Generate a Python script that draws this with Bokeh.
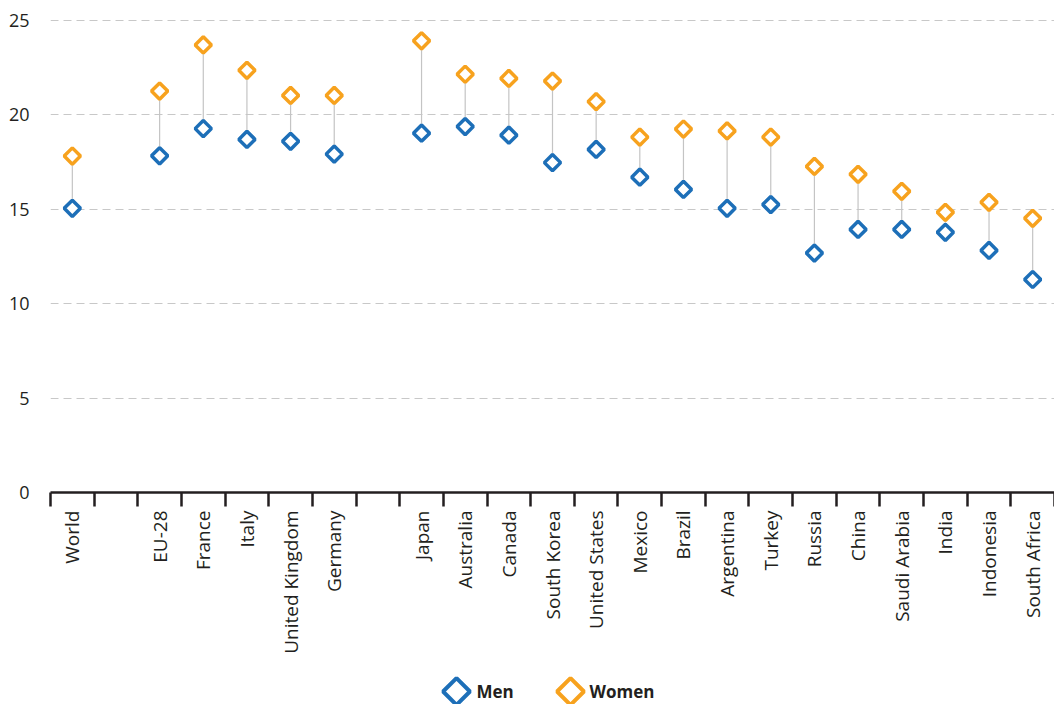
from bokeh.plotting import figure
from bokeh.models import ColumnDataSource, FixedTicker, Range1d
from bokeh.layouts import column
from bokeh.core.properties import value
from bokeh.embed import file_html
from bokeh.resources import INLINE
import math

categories = ["World", "", "EU-28", "France", "Italy", "United Kingdom", "Germany", "",
              "Japan", "Australia", "Canada", "South Korea", "United States", "Mexico",
              "Brazil", "Argentina", "Turkey", "Russia", "China", "Saudi Arabia", "India",
              "Indonesia", "South Africa"]
men = [15.05, None, 17.83, 19.27, 18.70, 18.60, 17.92, None,
       19.03, 19.38, 18.92, 17.47, 18.17, 16.70, 16.05, 15.05, 15.25, 12.68, 13.93,
       13.93, 13.78, 12.82, 11.28]
women = [17.82, None, 21.26, 23.70, 22.36, 21.03, 21.03, None,
         23.92, 22.15, 21.93, 21.79, 20.70, 18.82, 19.25, 19.15, 18.82, 17.27, 16.85,
         15.95, 14.84, 15.37, 14.52]
y_ticks = [0, 5, 10, 15, 20, 25]
series_names = ["Men", "Women"]

BLUE = "#1d6fb8"
ORANGE = "#f7a21e"
FONT = "Open Sans"
TXT = "#231f20"

idx = [i for i, c in enumerate(categories) if c]
src = ColumnDataSource(dict(
    x=idx,
    men=[men[i] for i in idx],
    women=[women[i] for i in idx],
))

n = len(categories)
p = figure(frame_width=1004, frame_height=480, x_range=(-0.5, n - 0.5), y_range=(0, 25.42),
           output_backend="svg", toolbar_location=None,
           min_border_left=50, min_border_right=0, min_border_top=12, min_border_bottom=0)
p.outline_line_color = None
p.background_fill_color = "white"
p.xgrid.visible = False
p.ygrid.grid_line_color = "#c8c8c8"
p.ygrid.grid_line_dash = "8 5"
p.ygrid.grid_line_width = 1

p.segment(x0="x", y0="men", x1="x", y1="women", source=src, line_color="#c4c4c4", line_width=1.2)
p.scatter(x="x", y="men", source=src, marker="square", angle=math.pi / 4, size=11.5,
          fill_color="white", line_color=BLUE, line_width=3.5)
p.scatter(x="x", y="women", source=src, marker="square", angle=math.pi / 4, size=11.5,
          fill_color="white", line_color=ORANGE, line_width=3.5)

# x axis
xa = p.xaxis[0]
xa.ticker = FixedTicker(ticks=list(range(n)), minor_ticks=[i - 0.5 for i in range(n + 1)])
xa.major_label_overrides = {i: c for i, c in enumerate(categories)}
xa.major_label_orientation = math.pi / 2
xa.major_tick_line_color = None
xa.major_tick_out = 15
xa.major_tick_in = 0
xa.major_label_standoff = 3
xa.minor_tick_line_color = TXT
xa.minor_tick_line_width = 2.5
xa.minor_tick_out = 14
xa.minor_tick_in = 0
xa.axis_line_color = TXT
xa.axis_line_width = 2.5
xa.major_label_text_font = FONT
xa.major_label_text_font_size = "19px"
xa.major_label_text_color = TXT

# y axis
ya = p.yaxis[0]
ya.ticker = FixedTicker(ticks=y_ticks)
ya.axis_line_color = None
ya.major_tick_line_color = None
ya.major_tick_out = 0
ya.major_tick_in = 0
ya.minor_tick_line_color = None
ya.major_label_standoff = 21
ya.major_label_text_font = FONT
ya.major_label_text_font_size = "18px"
ya.major_label_text_color = TXT

# legend strip (page-pixel coordinates; its frame is aligned with the chart frame)
LH = 48
leg = figure(width=1054, height=LH, x_range=Range1d(50, 1054), y_range=Range1d(0, LH),
             x_axis_type=None, y_axis_type=None,
             output_backend="svg", toolbar_location=None,
             min_border_left=0, min_border_right=0, min_border_top=0, min_border_bottom=0)
leg.grid.visible = False
leg.outline_line_color = None
lsrc = ColumnDataSource(dict(mx=[456, 570], tx=[476, 589], y=[13, 13],
                             color=[BLUE, ORANGE], label=series_names))
leg.scatter(x="mx", y="y", source=lsrc, marker="square", angle=math.pi / 4, size=19,
            fill_color="white", line_color="color", line_width=4)
leg.text(x="tx", y="y", text="label", source=lsrc, text_font=value(FONT),
         text_font_style="bold", text_font_size="17px", text_color=TXT,
         text_align="left", text_baseline="middle")

layout = column(p, leg, spacing=0)
open("out.html", "w").write(file_html(layout, INLINE))
